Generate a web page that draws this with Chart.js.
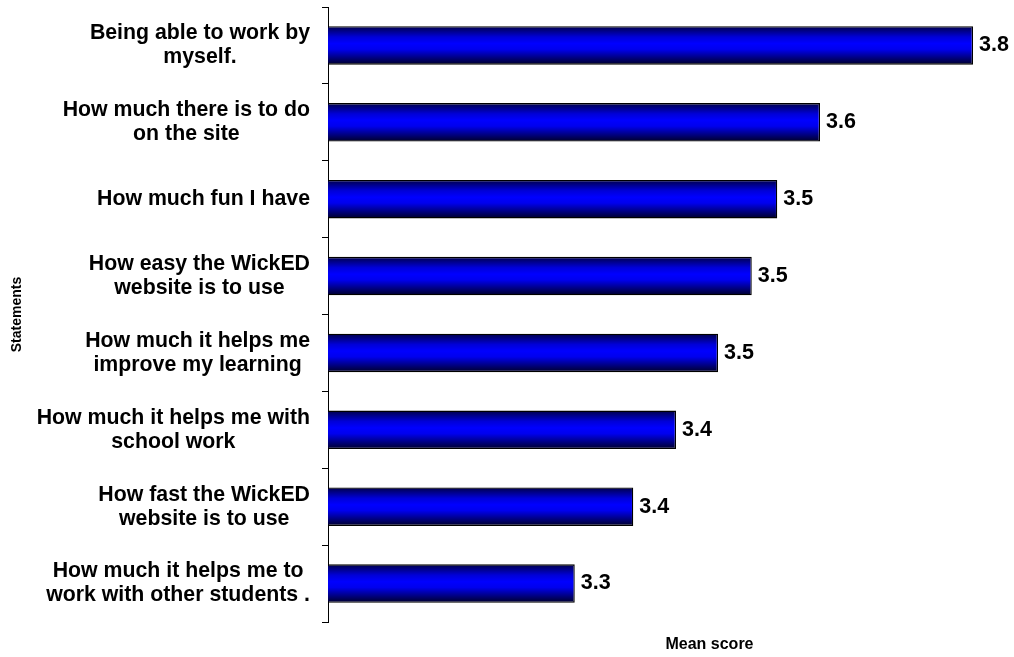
<!DOCTYPE html>
<html>
<head>
<meta charset="utf-8">
<script src="https://cdn.jsdelivr.net/npm/chart.js@4.4.1/dist/chart.umd.min.js"></script>
<style>
  html, body { margin: 0; padding: 0; background: #ffffff; }
  #wrap { width: 1014px; height: 657px; }
</style>
</head>
<body>
<div id="wrap"><canvas id="chart" width="1014" height="657"></canvas></div>
<script>
// Survey statements (wrapped into display lines) and their mean scores
const statements = [
  ['Being able to work by', 'myself.'],
  ['How much there is to do', 'on the site'],
  ['How much fun I have'],
  ['How easy the WickED', 'website is to use'],
  ['How much it helps me', 'improve my learning'],
  ['How much it helps me with', 'school work'],
  ['How fast the WickED', 'website is to use'],
  ['How much it helps me to', 'work with other students .']
];
const meanScores = [3.810, 3.606, 3.549, 3.515, 3.470, 3.414, 3.357, 3.279];
const scoreMin = 2.95;
const scoreMax = 3.85;
const yTitle = 'Statements';
const xTitle = 'Mean score';

const FONT = '"Liberation Sans", Arial, Helvetica, sans-serif';

// Cylinder-like vertical shading for each bar
function barFill(ctx) {
  const chart = ctx.chart;
  const ys = chart.scales && chart.scales.y;
  if (ctx.type !== 'data' || !ys) return '#0000ff';
  const c = ys.getPixelForValue(ctx.dataIndex);
  const half = ys.height / statements.length * 0.25;
  if (!isFinite(c) || !isFinite(half) || half <= 0) return '#0000ff';
  const g = chart.ctx.createLinearGradient(0, c - half, 0, c + half);
  g.addColorStop(0, '#000048');
  g.addColorStop(0.28, '#0000d8');
  g.addColorStop(0.45, '#0000ff');
  g.addColorStop(0.6, '#0000ee');
  g.addColorStop(1, '#000028');
  return g;
}

// Category labels (each line centred within its right-aligned block),
// value labels at bar ends, and the value-axis caption.
const annotate = {
  id: 'annotate',
  afterDraw(chart) {
    const ctx = chart.ctx;
    const ys = chart.scales.y;
    const area = chart.chartArea;
    ctx.save();
    ctx.fillStyle = '#000000';
    ctx.textBaseline = 'middle';

    ctx.font = 'bold 21.3px ' + FONT;
    ctx.textAlign = 'center';
    const rightEdge = ys.right - 18;
    statements.forEach((lines, i) => {
      const yc = ys.getPixelForTick(i);
      const w = Math.max(...lines.map(l => ctx.measureText(l).width));
      const cx = rightEdge - w / 2;
      lines.forEach((l, j) => {
        ctx.fillText(l, cx, yc + (j - (lines.length - 1) / 2) * 24);
      });
    });

    ctx.textAlign = 'left';
    ctx.font = 'bold 21.5px ' + FONT;
    const meta = chart.getDatasetMeta(0);
    meta.data.forEach((bar, i) => {
      ctx.fillText(meanScores[i].toFixed(1), bar.x + 6, bar.y);
    });

    ctx.font = 'bold 16px ' + FONT;
    ctx.textAlign = 'center';
    ctx.fillText(xTitle, (area.left + area.right) / 2 + 44, area.bottom + 23);
    ctx.restore();
  }
};

const chart = new Chart(document.getElementById('chart'), {
  type: 'bar',
  data: {
    labels: statements,
    datasets: [{
      data: meanScores,
      backgroundColor: barFill,
      borderColor: '#000000',
      borderWidth: 1.3,
      borderSkipped: false,
      barPercentage: 0.5,
      categoryPercentage: 1
    }]
  },
  options: {
    indexAxis: 'y',
    responsive: false,
    animation: false,
    devicePixelRatio: 1,
    layout: { padding: { top: 7, right: 11, bottom: 0, left: 0 } },
    plugins: {
      legend: { display: false },
      tooltip: { enabled: false }
    },
    scales: {
      x: {
        min: scoreMin,
        max: scoreMax,
        grid: { display: false },
        border: { display: false },
        ticks: { display: false },
        afterFit: s => { s.height = 35; }
      },
      y: {
        grid: {
          offset: true,
          drawOnChartArea: false,
          drawTicks: true,
          tickLength: 6,
          color: '#000000',
          lineWidth: 1
        },
        border: { display: true, color: '#000000', width: 1 },
        ticks: { display: false },
        title: {
          display: true,
          text: yTitle,
          color: '#000000',
          font: { family: FONT, size: 14, weight: 'bold' },
          padding: { top: 9, bottom: 0 }
        },
        afterFit: s => { s.width = 328; }
      }
    }
  },
  plugins: [annotate]
});
// second pass so the shading is resolved against the laid-out scales
chart.update('none');
</script>
</body>
</html>
